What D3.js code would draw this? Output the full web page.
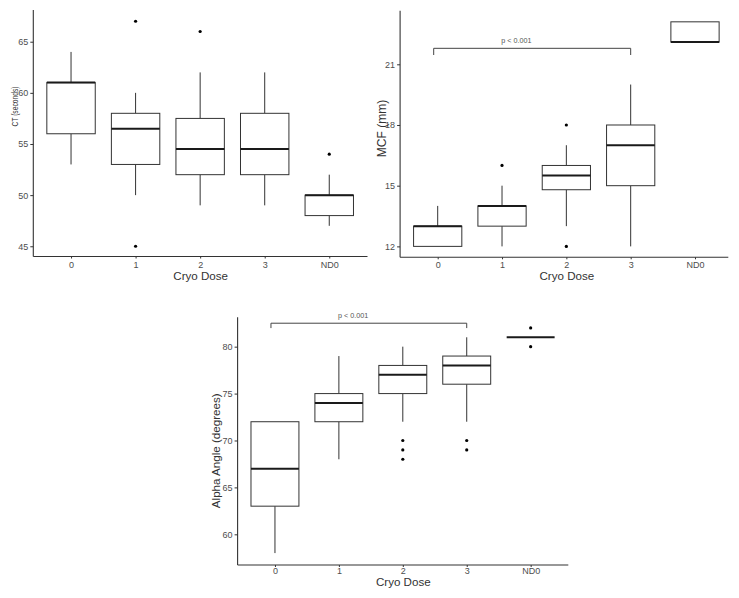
<!DOCTYPE html>
<html>
<head>
<meta charset="utf-8">
<script src="https://cdn.jsdelivr.net/npm/d3@7"></script>
<style>
  html, body { margin: 0; padding: 0; background: #fff; }
  svg { display: block; font-family: "Liberation Sans", Arial, sans-serif; }
</style>
</head>
<body>
<svg id="chart" width="739" height="598"></svg>
<script>
// ---------- DATA ----------
const categories = ["0", "1", "2", "3", "ND0"];

// Panel A: CT (seconds)
const ctLow      = [53, 50, 49, 49, 47];
const ctQ1       = [56, 53, 52, 52, 48];
const ctMedian   = [61, 56.5, 54.5, 54.5, 50];
const ctQ3       = [61, 58, 57.5, 58, 50];
const ctHigh     = [64, 60, 62, 62, 52];
const ctOutliers = [[], [67, 45], [66], [], [54]];
const ctTicks    = [45, 50, 55, 60, 65];

// Panel B: MCF (mm)
const mcfLow      = [12, 12, 13, 12, 22.1];
const mcfQ1       = [12, 13, 14.8, 15, 22.1];
const mcfMedian   = [13, 14, 15.5, 17, 22.1];
const mcfQ3       = [13, 14, 16, 18, 23.1];
const mcfHigh     = [14, 15, 17, 20, 23.1];
const mcfOutliers = [[], [16], [18, 12], [], []];
const mcfTicks    = [12, 15, 18, 21];

// Panel C: Alpha Angle (degrees)
const alphaLow      = [58, 68, 72, 72, 81];
const alphaQ1       = [63, 72, 75, 76, 81];
const alphaMedian   = [67, 74, 77, 78, 81];
const alphaQ3       = [72, 75, 78, 79, 81];
const alphaHigh     = [72, 79, 80, 81, 81];
const alphaOutliers = [[], [], [70, 69, 68], [70, 69], [82, 80]];
const alphaTicks    = [60, 65, 70, 75, 80];

const sigLabel = "p < 0.001";
const xTitle = "Cryo Dose";

// ---------- LAYOUT ----------
const svg = d3.select("#chart");
const TXT = "#333333", TICK = "#4d4d4d", LINE = "#333333";

const panels = [
  {
    low: ctLow, q1: ctQ1, med: ctMedian, q3: ctQ3, high: ctHigh, out: ctOutliers,
    ticks: ctTicks, ydom: [44.0, 68.1], yTitle: "CT (seconds)", yTitleSize: 9.5, yTitleLen: 40,
    L: 32.3, R: 368, axisR: 367.5, top: 10, bottom: 256.5,
    yTitleX: 17.5, yTitleY: 106.5, xTickY: 267.5, xTitleY: 280, sig: null
  },
  {
    low: mcfLow, q1: mcfQ1, med: mcfMedian, q3: mcfQ3, high: mcfHigh, out: mcfOutliers,
    ticks: mcfTicks, ydom: [11.46, 23.65], yTitle: "MCF (mm)", yTitleSize: 12, yTitleLen: null,
    L: 399.1, R: 733.6, axisR: 728.3, top: 10.7, bottom: 257.3,
    yTitleX: 386, yTitleY: 128.5, xTickY: 268.5, xTitleY: 280,
    sig: { from: "0", to: "3", y: 21.79, drop: 21.46 }
  },
  {
    low: alphaLow, q1: alphaQ1, med: alphaMedian, q3: alphaQ3, high: alphaHigh, out: alphaOutliers,
    ticks: alphaTicks, ydom: [56.73, 83.13], yTitle: "Alpha Angle (degrees)", yTitleSize: 11.6, yTitleLen: null,
    L: 236.6, R: 569, axisR: 568.3, top: 317.3, bottom: 565,
    yTitleX: 220, yTitleY: 450.8, xTickY: 573.5, xTitleY: 586,
    sig: { from: "0", to: "3", y: 82.5, drop: 81.98 }
  }
];

panels.forEach(p => {
  const g = svg.append("g");
  const x = d3.scalePoint().domain(categories).range([p.L, p.R]).padding(0.6);
  const y = d3.scaleLinear().domain(p.ydom).range([p.bottom, p.top]);
  const bw = x.step() * 0.75;

  // boxes
  categories.forEach((c, i) => {
    const cx = x(c);
    g.append("line").attr("x1", cx).attr("x2", cx)
      .attr("y1", y(p.high[i])).attr("y2", y(p.q3[i]))
      .attr("stroke", LINE).attr("stroke-width", 1);
    g.append("line").attr("x1", cx).attr("x2", cx)
      .attr("y1", y(p.q1[i])).attr("y2", y(p.low[i]))
      .attr("stroke", LINE).attr("stroke-width", 1);
    g.append("rect").attr("x", cx - bw / 2).attr("width", bw)
      .attr("y", y(p.q3[i])).attr("height", Math.max(0, y(p.q1[i]) - y(p.q3[i])))
      .attr("fill", "#fff").attr("stroke", LINE).attr("stroke-width", 1);
    g.append("line").attr("x1", cx - bw / 2).attr("x2", cx + bw / 2)
      .attr("y1", y(p.med[i])).attr("y2", y(p.med[i]))
      .attr("stroke", "#1a1a1a").attr("stroke-width", 2);
    p.out[i].forEach(v => {
      g.append("circle").attr("cx", cx).attr("cy", y(v)).attr("r", 1.6).attr("fill", "#000");
    });
  });

  // axis lines
  g.append("line").attr("x1", p.L + 1).attr("x2", p.L + 1)
    .attr("y1", p.top).attr("y2", p.bottom)
    .attr("stroke", LINE).attr("stroke-width", 1.1);
  g.append("line").attr("x1", p.L + 1).attr("x2", p.axisR)
    .attr("y1", p.bottom).attr("y2", p.bottom)
    .attr("stroke", LINE).attr("stroke-width", 1.1);

  // y ticks
  const yAxis = d3.axisLeft(y).tickValues(p.ticks).tickSize(3).tickPadding(2).tickFormat(d3.format("d"));
  const ya = g.append("g").attr("transform", `translate(${p.L + 1},0)`).call(yAxis);
  ya.select(".domain").remove();
  ya.selectAll(".tick line").attr("stroke", LINE);
  ya.selectAll(".tick text").attr("fill", TICK).attr("font-size", 9)
    .attr("font-family", "Liberation Sans, Arial, sans-serif");

  // x ticks
  const xAxis = d3.axisBottom(x).tickSize(2).tickPadding(3);
  const xa = g.append("g").attr("transform", `translate(0,${p.bottom})`).call(xAxis);
  xa.select(".domain").remove();
  xa.selectAll(".tick line").attr("stroke", LINE);
  xa.selectAll(".tick text").attr("fill", TICK).attr("font-size", 9)
    .attr("dy", null).attr("y", p.xTickY - p.bottom)
    .attr("font-family", "Liberation Sans, Arial, sans-serif");

  // titles
  g.append("text").attr("x", (p.L + p.axisR) / 2 + (p.R - p.axisR) / 2 + 0.5).attr("y", p.xTitleY)
    .attr("text-anchor", "middle").attr("font-size", 11.6).attr("fill", TXT).text(xTitle);
  const yt = g.append("text")
    .attr("transform", `translate(${p.yTitleX},${p.yTitleY}) rotate(-90)`)
    .attr("text-anchor", "middle").attr("font-size", p.yTitleSize).attr("fill", TXT).text(p.yTitle);
  if (p.yTitleLen) yt.attr("textLength", p.yTitleLen).attr("lengthAdjust", "spacingAndGlyphs");

  // significance bracket
  if (p.sig) {
    const x1 = x(p.sig.from) - 4, x2 = x(p.sig.to);
    const yb = y(p.sig.y), yd = y(p.sig.drop);
    g.append("path")
      .attr("d", `M${x1},${yd}V${yb}H${x2}V${yd}`)
      .attr("fill", "none").attr("stroke", "#444").attr("stroke-width", 1);
    g.append("text")
      .attr("x", x1 + (x2 - x1) * 0.42).attr("y", yb - 5.5)
      .attr("text-anchor", "middle").attr("font-size", 7.2).attr("fill", "#555").text(sigLabel);
  }
});
</script>
</body>
</html>
